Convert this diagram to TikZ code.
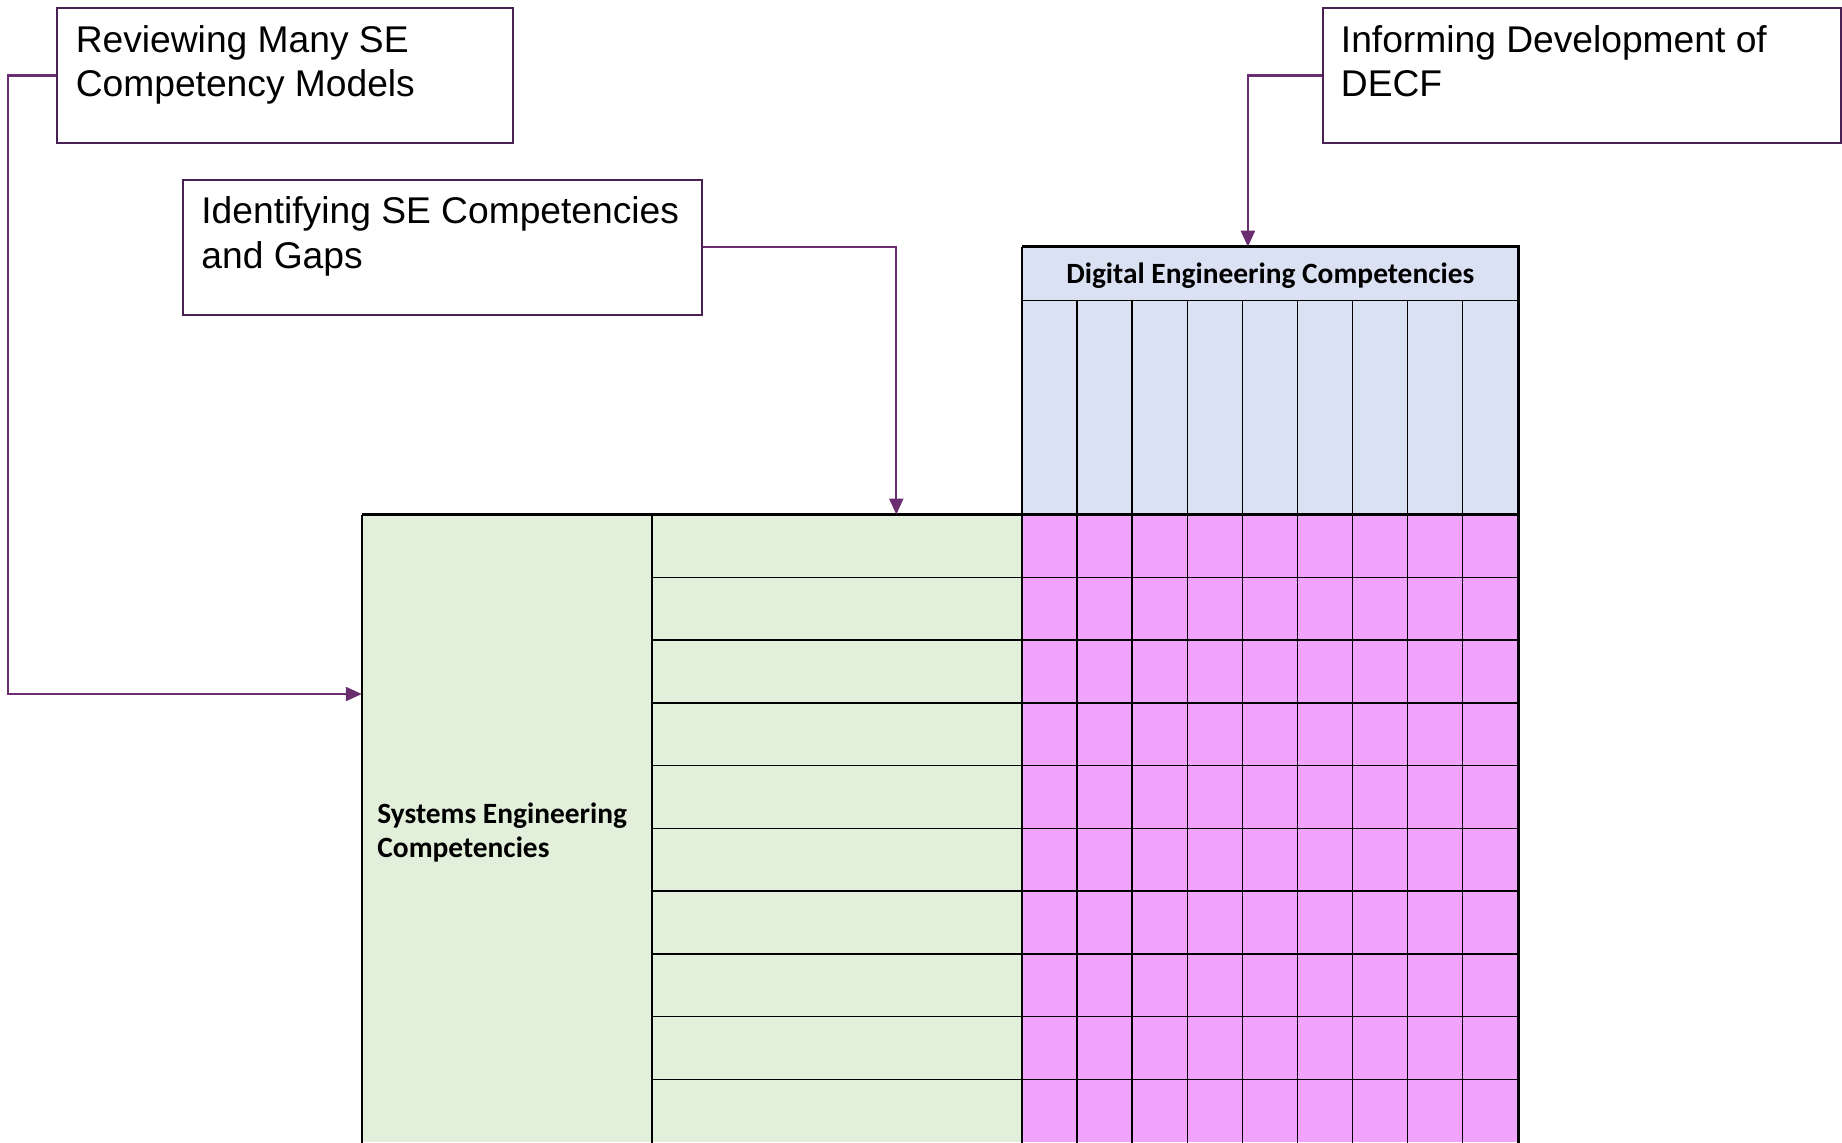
\documentclass[tikz,border=0pt]{standalone}
\usepackage{fontspec}
\setmainfont{Liberation Sans}
\newfontfamily\calib{Carlito}
\usetikzlibrary{arrows.meta,calc}
\definecolor{boxline}{RGB}{72,32,84}
\definecolor{linkline}{RGB}{106,46,112}
\definecolor{segreen}{RGB}{226,239,218}
\definecolor{deblue}{RGB}{218,225,243}
\definecolor{cellpink}{RGB}{240,164,252}
\begin{document}
\begin{tikzpicture}[x=0.5pt,y=-0.5pt,
  stepbox/.style={draw=boxline,line width=1pt,fill=white,minimum height=67.55pt,inner sep=0pt,anchor=north west},
  steptext/.style={anchor=north west,inner sep=0pt,align=left,font=\fontsize{18.6}{22.3}\selectfont},
  conn/.style={draw=linkline,line width=1.15pt,-{Triangle[length=8pt,width=7pt]}},
  region/.style={inner sep=0pt,anchor=north west,draw=none},
  gridline/.style={draw=black,line width=0.75pt},
  frameline/.style={draw=black,line width=1.5pt},
  sideline/.style={draw=black,line width=1.1pt},
  head/.style={font=\calib\bfseries\fontsize{14.7}{17}\selectfont}]

\useasboundingbox (0,0) rectangle (1842,1142);

% coloured regions of the matrix
\node[region,fill=segreen,minimum width=145.1pt,minimum height=313.75pt] (se) at (361.8,514.5) {};
\node[region,fill=segreen,minimum width=185pt,minimum height=313.75pt] (serows) at (652,514.5) {};
\node[region,fill=deblue,minimum width=247.85pt,minimum height=26.4pt,head] (de) at (1022,246.7) {};
\node[region,fill=deblue,minimum width=247.85pt,minimum height=107.5pt] (decols) at (1022,299.5) {};
\node[region,fill=cellpink,minimum width=247.85pt,minimum height=313.75pt] (cells) at (1022,514.5) {};

\node[head,inner sep=0pt] (detitle) at ($(de.center)+(0,2.5)$) {Digital Engineering Competencies};
\node[head,anchor=west,align=left,inner sep=0pt] (selabel) at ($(se.west)+(15.2,4)$) {Systems Engineering\\Competencies};

% row lines across the SE rows and the cell matrix
\foreach \i in {1,...,9}
  \draw[gridline] ($(serows.north west)+(0,62.75*\i)$) -- ($(cells.north east)+(0,62.75*\i)$);
% column lines through the DE columns and the cell matrix
\foreach \j in {1,...,8}
  \draw[gridline] ($(decols.north west)+(55.08*\j,0)$) -- ($(cells.south west)+(55.08*\j,0)$);
\draw[gridline] (serows.north west) -- (serows.south west);
\draw[gridline] (de.south west) -- (de.south east);

% outer frames
\draw[sideline] (se.north west) -- (se.south west);
\draw[sideline] (de.north west) -- (cells.south west);
\draw[frameline] (de.north west) -- (de.north east) -- (cells.south east);
\draw[frameline] (se.north west) -- (cells.north east);

% process step boxes
\node[stepbox,minimum width=227.9pt] (b1) at (56.4,7) {};
\node[stepbox,minimum width=259.65pt] (b2) at (182,178.6) {};
\node[stepbox,minimum width=259.05pt] (b3) at (1321.5,7) {};

\node[steptext] (t1) at ($(b1.north west)+(19,18)$) {Reviewing Many SE\\Competency Models};
\node[steptext] (t2) at ($(b2.north west)+(19,18)$) {Identifying SE Competencies\\and Gaps};
\node[steptext] (t3) at ($(b3.north west)+(19,18)$) {Informing Development of\\DECF};

% connectors
\draw[conn] (b1.west) -- ($(b1.west)+(-48.2,0)$) |- ($(se.north west)+(0,179.5)$);
\draw[conn] (b2.east) -| ($(serows.north west)+(244.3,0)$);
\draw[conn] (b3.west) -| ($(de.north)+(-22.35,0)$);
\end{tikzpicture}
\end{document}
